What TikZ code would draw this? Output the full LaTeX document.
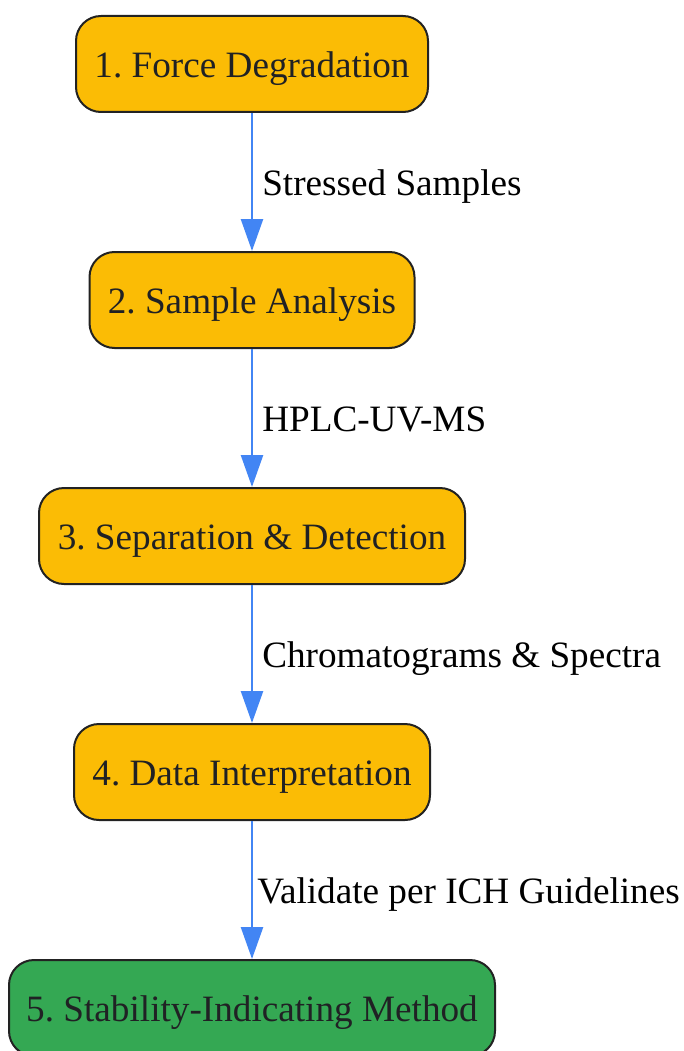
\documentclass[tikz,border=0pt]{standalone}
\usepackage{fontspec}
\setmainfont{Liberation Serif}
\frenchspacing
\usetikzlibrary{arrows.meta}
\definecolor{stepyellow}{HTML}{FBBC05}
\definecolor{stepgreen}{HTML}{34A853}
\definecolor{flowblue}{HTML}{4285F4}
\definecolor{edgegray}{HTML}{222222}
\definecolor{textgray}{HTML}{202124}

\begin{document}
\begin{tikzpicture}[x=1pt, y=-1pt,
  stepbox/.style={draw=edgegray, line width=2pt, rounded corners=25pt,
    fill=stepyellow, text=textgray, minimum height=96pt, inner sep=0pt,
    text height=26.5pt, text depth=0pt, font=\fontsize{37.2}{44}\selectfont},
  finalbox/.style={stepbox, fill=stepgreen},
  flow/.style={draw=flowblue, line width=2.5pt,
    -{Triangle[width=22pt, length=32pt]}},
  flowlabel/.style={right, inner sep=0pt, xshift=9pt, text=black,
    text height=26.5pt, text depth=0pt, font=\fontsize{37.2}{44}\selectfont}]
\useasboundingbox (0,0) rectangle (683,1051);

\node[stepbox, minimum width=352pt] (force) at (252, 64) {1. Force Degradation};
\node[stepbox, minimum width=325pt] (analysis) at (252, 300) {2. Sample Analysis};
\node[stepbox, minimum width=426pt] (separation) at (252, 536) {3. Separation \& Detection};
\node[stepbox, minimum width=356pt] (interpret) at (252, 772) {4. Data Interpretation};
\node[finalbox, minimum width=486pt] (method) at (252, 1008) {5. Stability-Indicating Method};

\draw[flow] (force) -- node[flowlabel] {Stressed Samples} (analysis);
\draw[flow] (analysis) -- node[flowlabel] {HPLC-UV-MS} (separation);
\draw[flow] (separation) -- node[flowlabel] {Chromatograms \& Spectra} (interpret);
\draw[flow] (interpret) -- node[flowlabel, xshift=-5pt] {Validate per ICH Guidelines} (method);

\end{tikzpicture}
\end{document}
